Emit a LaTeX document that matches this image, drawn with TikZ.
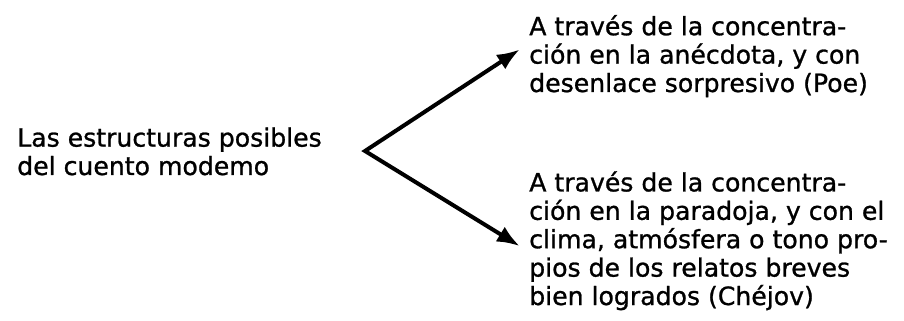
\documentclass[tikz,border=0pt]{standalone}
\usepackage{fontspec}
\setmainfont{DejaVu Sans}[FakeBold=1]
\usetikzlibrary{arrows.meta}
\begin{document}
\begin{tikzpicture}[x=0.75pt, y=-0.75pt,
  txt/.style={align=left, inner sep=0pt, anchor=base west, font=\fontsize{18.85pt}{21.3pt}\selectfont},
  flecha/.style={line width=3pt, line join=miter, {Latex[length=17pt,width=13pt]}-{Latex[length=17pt,width=13pt]}}]
  \useasboundingbox (0,0) rectangle (904,321);
  \node[txt] (cuento) at (17,175) {Las estructuras posibles\\del cuento modemo};
  \node[txt] (poe) at (529,92) {A través de la concentra-\\ción en la anécdota, y con\\desenlace sorpresivo (Poe)};
  \node[txt] (chejov) at (529,305) {A través de la concentra-\\ción en la paradoja, y con el\\clima, atmósfera o tono pro-\\pios de los relatos breves\\bien logrados (Chéjov)};
  \coordinate (fork) at (365,151);
  \draw[flecha] ([xshift=-7pt,yshift=5pt]poe.west) -- (fork) -- ([xshift=-7pt,yshift=-4pt]chejov.west);
\end{tikzpicture}
\end{document}
